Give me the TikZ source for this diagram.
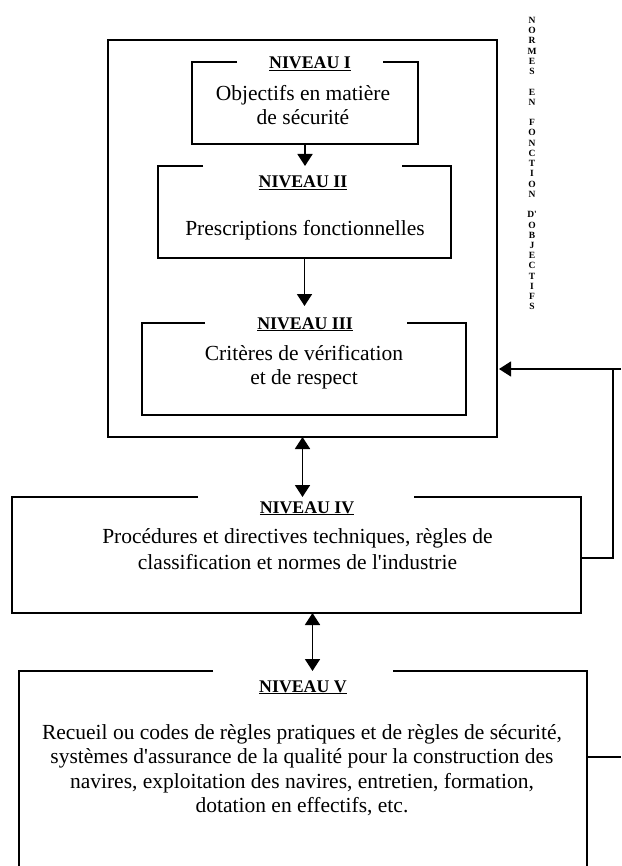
\documentclass[tikz,border=0pt]{standalone}
\usepackage{fontspec}
\setmainfont{Liberation Serif}
\usetikzlibrary{arrows.meta}
\tikzset{
  boxline/.style={line width=1.3pt},
  area/.style={inner sep=0pt, outer sep=0pt, draw=none, anchor=north west},
  tip/.tip={Triangle[width=15pt,length=12pt]},
  arr/.style={line width=1.8pt, -tip},
  darr/.style={line width=1.8pt, tip-tip},
  title/.style={font=\fontsize{17.8}{20}\selectfont\bfseries, inner sep=0pt, anchor=base},
  body/.style={font=\fontsize{21.5}{24.5}\selectfont, align=center, inner sep=0pt},
}
\begin{document}
\begin{tikzpicture}[x=1pt,y=-1pt]
\useasboundingbox (0,0) rectangle (621,866);

% outer frame
\node[area, draw, line width=1.3pt, minimum width=389pt, minimum height=397pt] (outer) at (108,40) {};

% level areas
\node[area, minimum width=226pt, minimum height=82pt] (L1) at (192,62) {};
\node[area, minimum width=293pt, minimum height=92pt] (L2) at (158,166) {};
\node[area, minimum width=324pt, minimum height=92pt] (L3) at (142,323) {};
\node[area, minimum width=569pt, minimum height=116pt] (L4) at (12,497) {};
\node[area, minimum width=568pt, minimum height=205pt] (L5) at (19,671) {};

% gap ends in the top lines
\coordinate (g1a) at (237,62);  \coordinate (g1b) at (383,62);
\coordinate (g2a) at (203,166); \coordinate (g2b) at (402,166);
\coordinate (g3a) at (205,323); \coordinate (g3b) at (407,323);
\coordinate (g4a) at (198,497); \coordinate (g4b) at (414,497);
\coordinate (g5a) at (213,671); \coordinate (g5b) at (393,671);

\draw[boxline] (g1a) -- (L1.north west) -- (L1.south west) -- (L1.south east) -- (L1.north east) -- (g1b);
\draw[boxline] (g2a) -- (L2.north west) -- (L2.south west) -- (L2.south east) -- (L2.north east) -- (g2b);
\draw[boxline] (g3a) -- (L3.north west) -- (L3.south west) -- (L3.south east) -- (L3.north east) -- (g3b);
\draw[boxline] (g4a) -- (L4.north west) -- (L4.south west) -- (L4.south east) -- (L4.north east) -- (g4b);
\draw[boxline] (g5a) -- (L5.north west) -- (L5.south west);
\draw[boxline] (g5b) -- (L5.north east) -- (L5.south east);

% titles
\node[title] (n1) at (310,69) {\underline{NIVEAU I}};
\node[title] (n2) at (303,188) {\underline{NIVEAU II}};
\node[title] (n3) at (305,329) {\underline{NIVEAU III}};
\node[title] (n4) at (307,513) {\underline{NIVEAU IV}};
\node[title] (n5) at (303,692) {\underline{NIVEAU V}};

% texts
\node[body] (t1) at (303,105) {Objectifs en matière\\de sécurité};
\node[body, anchor=base] (t2) at (305,236) {Prescriptions fonctionnelles};
\node[body] (t3) at (304,367) {Critères de vérification\\et de respect};
\node[body, font=\fontsize{21.5}{26}\selectfont] (t4) at (297.5,549.5) {Procédures et directives techniques, règles de\\classification et normes de l\textquotesingle industrie};
\node[body] (t5) at (302,770) {Recueil ou codes de règles pratiques et de règles de sécurité,\\systèmes d\textquotesingle assurance de la qualité pour la construction des\\navires, exploitation des navires, entretien, formation,\\dotation en effectifs, etc.};

% side text
\node[font=\fontsize{9.5}{10.23}\selectfont\bfseries, align=center, inner sep=0pt, anchor=north] (side) at (532,17)
  {N\\O\\R\\M\\E\\S\\[10.23pt]E\\N\\[10.23pt]F\\O\\N\\C\\T\\I\\O\\N\\[10.23pt]D\textquotesingle\\O\\B\\J\\E\\C\\T\\I\\F\\S};

% arrows
\draw[arr] (L1.south) -- (L1.south |- L2.north);
\draw[arr, shorten >=17pt] (L2.south) -- (L2.south |- L3.north);
\draw[darr] (outer.south) -- (outer.south |- L4.north);
\coordinate (a45) at ([xshift=16pt]L4.south);
\draw[darr] (a45) -- (a45 |- L5.north);

% right-hand connectors
\coordinate (e1) at (621,369);
\coordinate (e2) at (613,369);
\coordinate (e3) at (621,757);
\draw[arr, line width=1.3pt, shorten >=2pt] (e1) -- (outer.east |- e1);
\draw[boxline] (e2) |- ([yshift=-3pt]L4.east);
\draw[boxline] (e3 -| L5.east) -- (e3);
\end{tikzpicture}
\end{document}
